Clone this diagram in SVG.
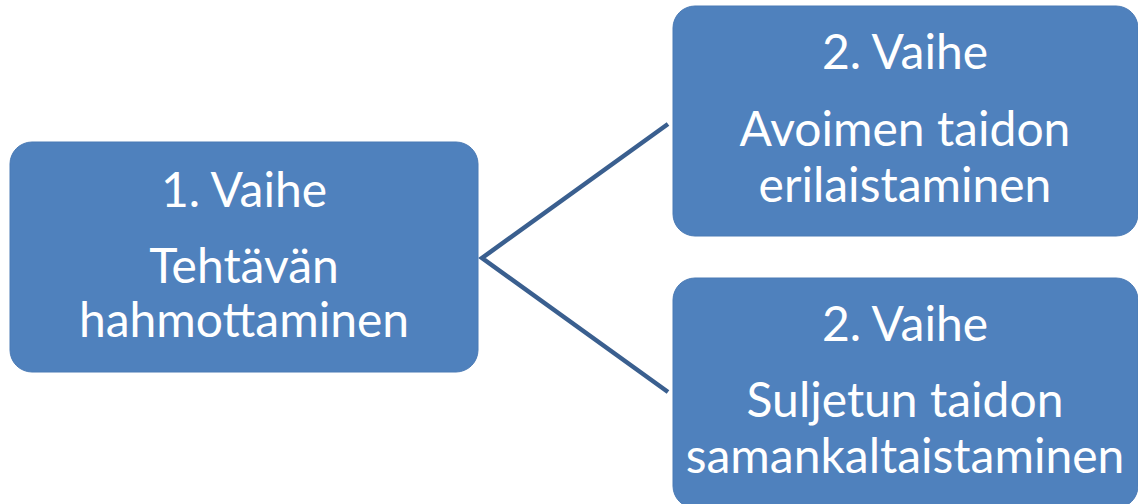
<svg xmlns="http://www.w3.org/2000/svg" width="1138" height="504" viewBox="0 0 1138 504">
<style>
.box{fill:#4f81bd;stroke:#4a7ab5;stroke-width:1}
.t{font-family:Lato,"Open Sans","Liberation Sans",sans-serif;font-size:48px;fill:#ffffff;text-anchor:middle}
.c{fill:none;stroke:#3a5f8f;stroke-width:4.5}
</style>
<rect width="1138" height="504" fill="#ffffff"/>
<g id="connectors">
<path class="c" d="M668,124 L482,258 L668,392"/>
</g>
<g id="node1">
<rect class="box" x="10" y="142" width="468" height="230" rx="22"/>
<text class="t" x="244" y="207">1. Vaihe</text>
<text class="t" x="244" y="283">Tehtävän</text>
<text class="t" x="244" y="337">hahmottaminen</text>
</g>
<g id="node2">
<rect class="box" x="673" y="6" width="465" height="230" rx="22"/>
<text class="t" x="905" y="69">2. Vaihe</text>
<text class="t" x="905" y="146">Avoimen taidon</text>
<text class="t" x="905" y="202">erilaistaminen</text>
</g>
<g id="node3">
<rect class="box" x="673" y="278" width="465" height="230" rx="22"/>
<text class="t" x="905" y="341">2. Vaihe</text>
<text class="t" x="905" y="417">Suljetun taidon</text>
<text class="t" x="905" y="473">samankaltaistaminen</text>
</g>
</svg>
